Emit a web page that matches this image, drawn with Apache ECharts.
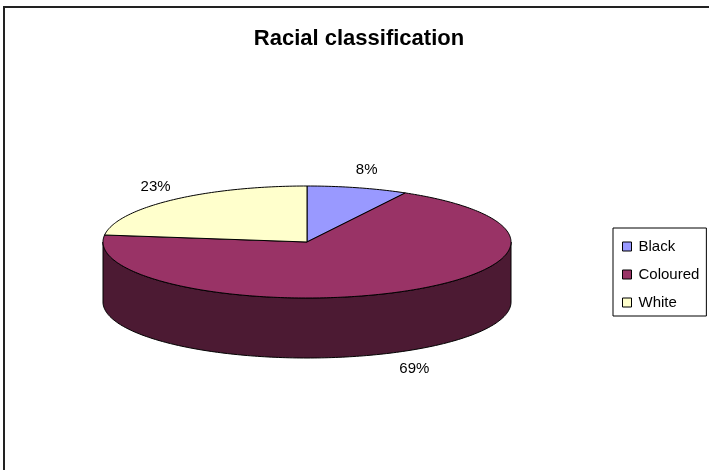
<!DOCTYPE html>
<html>
<head>
<meta charset="utf-8">
<script src="https://cdn.jsdelivr.net/npm/echarts@6/dist/echarts.min.js"></script>
<style>
  html, body { margin: 0; padding: 0; background: #fff; }
  #chart { width: 709px; height: 470px; }
</style>
</head>
<body>
<div id="chart"></div>
<script>
// Racial classification shares (percent)
const categories = ['Black', 'Coloured', 'White'];
const shares = [8, 69, 23];
const topColors = ['#9999FF', '#993366', '#FFFFCC'];
const sideColors = ['#4D4D80', '#4C1A33', '#808066'];

const total = shares.reduce((a, b) => a + b, 0);
let running = 0;
// each slice: [start, end, value] in cumulative share units
const slices = shares.map(v => { const s = running; running += v; return [s, running, v]; });

// tilted pie geometry (pixels)
const CX = 307, CY = 242, RX = 204, RY = 56, DEPTH = 60;

function pt(deg, dy) {
  const r = deg * Math.PI / 180;
  return [CX + RX * Math.sin(r), CY - RY * Math.cos(r) + (dy || 0)];
}
function arc(a, b, dy) {
  const pts = [];
  const n = Math.max(2, Math.ceil(Math.abs(b - a)));
  for (let i = 0; i <= n; i++) pts.push(pt(a + (b - a) * i / n, dy));
  return pts;
}

function renderSlice(idx) {
  return function (params, api) {
    const a = api.value(0) / total * 360;
    const b = api.value(1) / total * 360;
    const children = [];
    // front wall: only the part facing the viewer (90..270 degrees)
    const s = Math.max(a, 90), e = Math.min(b, 270);
    if (e > s) {
      children.push({
        type: 'polygon',
        shape: { points: arc(s, e, 0).concat(arc(e, s, DEPTH)) },
        style: { fill: sideColors[idx], stroke: '#000', lineWidth: 1 }
      });
    }
    // top face
    children.push({
      type: 'polygon',
      shape: { points: [[CX, CY]].concat(arc(a, b, 0)) },
      style: { fill: topColors[idx], stroke: '#000', lineWidth: 1 }
    });
    // percentage label outside the rim
    const m = (a + b) / 2 * Math.PI / 180;
    const lx = CX + (RX + 28) * Math.sin(m) + 2;
    const ly = CY - (RY + 18) * Math.cos(m) + (Math.cos(m) < 0 ? DEPTH + 1 : 0);
    children.push({
      type: 'text',
      x: lx, y: ly,
      style: {
        text: Math.round(api.value(2) / total * 100) + '%',
        fill: '#000',
        font: '15px "Liberation Sans", Arial, sans-serif',
        align: 'center',
        verticalAlign: 'middle'
      }
    });
    return { type: 'group', children };
  };
}

const chart = echarts.init(document.getElementById('chart'), null, { renderer: 'canvas' });
chart.setOption({
  animation: false,
  backgroundColor: '#fff',
  title: {
    text: 'Racial classification',
    left: 359,
    textAlign: 'center',
    top: 28,
    padding: 0,
    textStyle: {
      fontFamily: '"Liberation Sans", Arial, sans-serif',
      fontWeight: 'bold',
      fontSize: 22,
      color: '#000'
    }
  },
  legend: {
    orient: 'vertical',
    left: 613,
    top: 228,
    padding: [11, 7, 6, 9],
    borderColor: '#000',
    borderWidth: 1,
    itemWidth: 9,
    itemHeight: 9,
    itemGap: 13,
    icon: 'rect',
    selectedMode: false,
    itemStyle: { borderColor: '#000', borderWidth: 1 },
    textStyle: {
      fontFamily: '"Liberation Sans", Arial, sans-serif',
      fontSize: 15,
      color: '#000',
      lineHeight: 15,
      padding: [0, 0, 0, 2]
    },
    data: categories
  },
  graphic: [{
    type: 'rect',
    shape: { x: 4, y: 7, width: 800, height: 600 },
    style: { fill: 'none', stroke: '#222', lineWidth: 2 },
    silent: true
  }],
  series: categories.map((name, i) => ({
    type: 'custom',
    name: name,
    coordinateSystem: 'none',
    silent: true,
    itemStyle: { color: topColors[i], borderColor: '#000', borderWidth: 1 },
    renderItem: renderSlice(i),
    data: [slices[i]]
  }))
});
</script>
</body>
</html>
